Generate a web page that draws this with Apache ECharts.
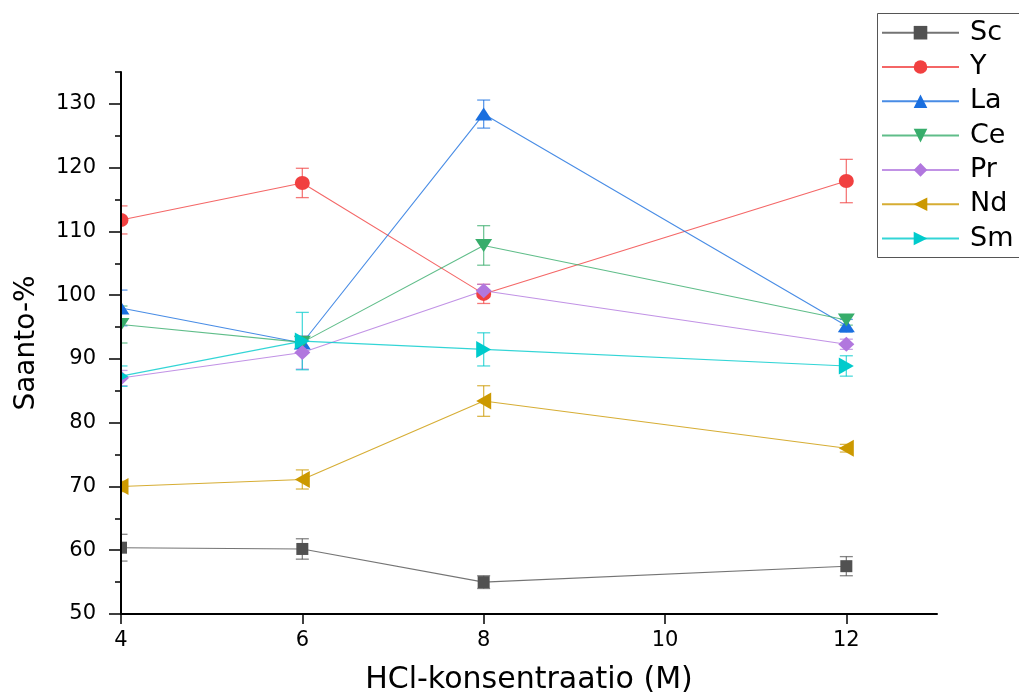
<!DOCTYPE html>
<html>
<head>
<meta charset="utf-8">
<script src="https://cdn.jsdelivr.net/npm/echarts@6/dist/echarts.min.js"></script>
<style>
html,body{margin:0;padding:0;background:#fff;}
#chart{width:1019px;height:700px;}
</style>
</head>
<body>
<div id="chart"></div>
<script>
// ---- data ----
const xValues = [4, 6, 8, 12];
const seriesNames = ['Sc', 'Y', 'La', 'Ce', 'Pr', 'Nd', 'Sm'];
const Sc = [60.4, 60.2, 55.0, 57.5];
const ScErr = [2.1, 1.6, 1.0, 1.5];
const Y = [111.8, 117.6, 100.2, 117.9];
const YErr = [2.2, 2.3, 1.5, 3.4];
const La = [98.0, 92.5, 128.4, 95.2];
const LaErr = [2.8, 0.8, 2.2, 1.0];
const Ce = [95.4, 92.6, 107.8, 96.1];
const CeErr = [2.9, 0.8, 3.1, 0.8];
const Pr = [87.0, 91.0, 100.7, 92.3];
const PrErr = [1.2, 2.6, 1.0, 0.8];
const Nd = [70.0, 71.1, 83.4, 76.0];
const NdErr = [0.8, 1.5, 2.4, 0.6];
const Sm = [87.3, 92.8, 91.5, 88.9];
const SmErr = [1.6, 4.5, 2.6, 1.6];
const xTickLabels = [4, 6, 8, 10, 12];
const yTickLabels = [50, 60, 70, 80, 90, 100, 110, 120, 130];
const xTitle = 'HCl-konsentraatio (M)';
const yTitle = 'Saanto-%';

// ---- styles ----
const FONT = 'DejaVu Sans, Liberation Sans, Arial, sans-serif';
const values = [Sc, Y, La, Ce, Pr, Nd, Sm];
const errors = [ScErr, YErr, LaErr, CeErr, PrErr, NdErr, SmErr];
const colors = ['#515151', '#F14040', '#1A6FDF', '#37AD6B', '#B177DE', '#CC9900', '#00CBCC'];
const symbols = [
  'rect',
  'circle',
  'path://M5,0 L10,8 L0,8 Z',
  'path://M0,0 L10,0 L5,8 Z',
  'diamond',
  'path://M0,5 L8,0 L8,10 Z',
  'path://M8,5 L0,0 L0,10 Z'
];
const symbolSizes = [[12, 12], [15, 14], [17, 13], [17, 13], [16, 15], [15, 17], [15, 17]];
const X_MIN = 4, X_MAX = 13, Y_MIN = 50, Y_MAX = 135;

const chart = echarts.init(document.getElementById('chart'), null, {renderer: 'canvas'});

const series = [];
values.forEach((vals, i) => {
  const err = errors[i];
  series.push({
    name: seriesNames[i] + '-err',
    type: 'custom',
    z: 2,
    silent: true,
    clip: false,
    data: xValues.map((x, k) => [x, vals[k], err[k]]),
    renderItem: function (params, api) {
      const x = api.value(0), y = api.value(1), e = api.value(2);
      const top = api.coord([x, y + e]);
      const bot = api.coord([x, y - e]);
      const w = 6.5;
      const style = {stroke: colors[i], lineWidth: 1.3, opacity: 0.7};
      return {
        type: 'group',
        children: [
          {type: 'line', shape: {x1: top[0], y1: top[1], x2: bot[0], y2: bot[1]}, style: style},
          {type: 'line', shape: {x1: top[0] - w, y1: top[1], x2: top[0] + w, y2: top[1]}, style: style},
          {type: 'line', shape: {x1: bot[0] - w, y1: bot[1], x2: bot[0] + w, y2: bot[1]}, style: style}
        ]
      };
    }
  });
});
values.forEach((vals, i) => {
  series.push({
    name: seriesNames[i],
    type: 'line',
    z: 3,
    data: xValues.map((x, k) => [x, vals[k]]),
    symbol: symbols[i],
    symbolSize: symbolSizes[i],
    showAllSymbol: true,
    clip: false,
    itemStyle: {color: colors[i], opacity: 1},
    lineStyle: {color: colors[i], width: 1.1, opacity: 0.8},
    emphasis: {disabled: true},
    animation: false
  });
});
// white mask left of the y axis (marks are clipped at the plot edge, as in the original)
series.push({
  name: 'mask',
  type: 'custom',
  z: 5,
  silent: true,
  clip: false,
  data: [[X_MIN, Y_MAX]],
  renderItem: function (params, api) {
    const tl = api.coord([X_MIN, Y_MAX]);
    const bl = api.coord([X_MIN, Y_MIN]);
    return {
      type: 'rect',
      shape: {x: 0, y: tl[1] - 12, width: tl[0] - 1, height: bl[1] - tl[1] + 12},
      style: {fill: '#ffffff'}
    };
  }
});

const option = {
  backgroundColor: '#ffffff',
  animation: false,
  grid: {left: 121, right: 82, top: 72, bottom: 86},
  graphic: {
    elements: [{
      type: 'polyline',
      z: 100,
      silent: true,
      shape: {points: [[1040, 13.5], [877.5, 13.5], [877.5, 257.5], [1040, 257.5]]},
      style: {fill: null, stroke: '#555', lineWidth: 1}
    }]
  },
  legend: {
    data: seriesNames,
    orient: 'vertical',
    left: 877,
    top: 13,
    padding: [6.2, 0, 0, 4],
    itemWidth: 77,
    itemHeight: 17,
    itemGap: 7.3,
    borderWidth: 0,
    textStyle: {fontFamily: FONT, fontSize: 27, color: '#000', lineHeight: 27, padding: [0, 0, 0, 6]},
    selectedMode: false
  },
  xAxis: {
    type: 'value',
    min: X_MIN,
    max: X_MAX,
    interval: 2,
    z: 10,
    name: xTitle,
    nameLocation: 'middle',
    nameGap: 51,
    nameTextStyle: {fontFamily: FONT, fontSize: 30, color: '#000'},
    axisLine: {show: true, onZero: false, lineStyle: {color: '#000', width: 2}},
    axisTick: {show: true, inside: false, length: 10, lineStyle: {color: '#000', width: 1.5}, customValues: xTickLabels},
    axisLabel: {fontFamily: FONT, fontSize: 21, color: '#000', margin: 16, customValues: xTickLabels},
    splitLine: {show: false}
  },
  yAxis: [{
    type: 'value',
    min: Y_MIN,
    max: Y_MAX,
    interval: 10,
    z: 10,
    name: yTitle,
    nameLocation: 'middle',
    nameGap: 80,
    nameRotate: 90,
    nameTextStyle: {fontFamily: FONT, fontSize: 28, color: '#000'},
    axisLine: {show: true, onZero: false, lineStyle: {color: '#000', width: 2}},
    axisTick: {show: true, inside: false, length: 12, lineStyle: {color: '#000', width: 1.5}, customValues: yTickLabels},
    axisLabel: {fontFamily: FONT, fontSize: 21, color: '#000', margin: 25, customValues: yTickLabels},
    splitLine: {show: false}
  }, {
    type: 'value',
    min: Y_MIN,
    max: Y_MAX,
    interval: 5,
    position: 'left',
    z: 10,
    axisLine: {show: false},
    axisTick: {show: true, inside: false, length: 6, lineStyle: {color: '#000', width: 1.5}},
    axisLabel: {show: false},
    splitLine: {show: false}
  }],
  series: series
};
chart.setOption(option);
</script>
</body>
</html>
